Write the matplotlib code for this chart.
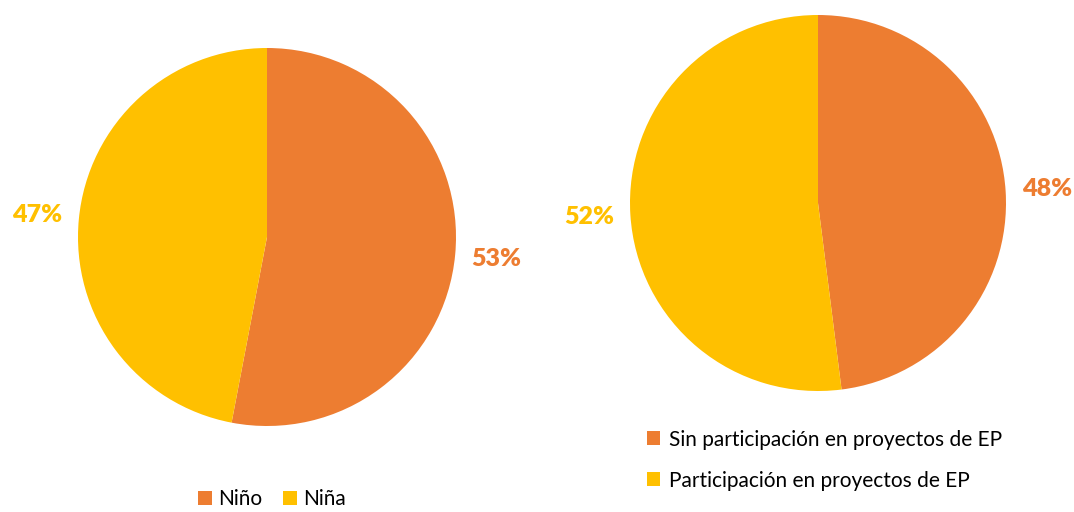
import matplotlib
matplotlib.use("Agg")
import matplotlib.pyplot as plt

plt.rcParams['font.family'] = ['Lato', 'DejaVu Sans']

# data
sexo_labels = ["Niño", "Niña"]
sexo_values = [53, 47]
ep_labels = ["Sin participación en proyectos de EP", "Participación en proyectos de EP"]
ep_values = [48, 52]
colors = ["#ED7D31", "#FFC000"]

fig = plt.figure(figsize=(10.74, 5.12), dpi=100)

ax1 = fig.add_axes([78/1074, 86/512, 378/1074, 378/512])
ax2 = fig.add_axes([630/1074, 121/512, 376/1074, 376/512])


def draw_pie(ax, values):
    wedges, texts, autotexts = ax.pie(values, colors=colors, startangle=90, counterclock=False,
                                      autopct='%1.0f%%', pctdistance=1.22, radius=1,
                                      wedgeprops=dict(linewidth=0))
    for t, c in zip(autotexts, colors):
        t.set_color(c)
        t.set_fontsize(18)
        t.set_fontweight('heavy')
    ax.set_xlim(-1, 1)
    ax.set_ylim(-1, 1)
    ax.set_aspect('equal')
    return wedges


w1 = draw_pie(ax1, sexo_values)
w2 = draw_pie(ax2, ep_values)

# reference has this legend right at the bottom edge; kept just inside it
fig.legend(w1, sexo_labels, loc='center', bbox_to_anchor=(272/1074, 13/512), ncol=2,
           frameon=False, fontsize=15, handlelength=0.65, handleheight=0.65,
           handletextpad=0.3, columnspacing=1.0)
fig.legend(w2, ep_labels, loc='upper left', bbox_to_anchor=(628/1074, 1 - 411/512), ncol=1,
           frameon=False, fontsize=15, handlelength=0.65, handleheight=0.65,
           handletextpad=0.4, labelspacing=1.0)

fig.savefig("out.png", dpi=100)
